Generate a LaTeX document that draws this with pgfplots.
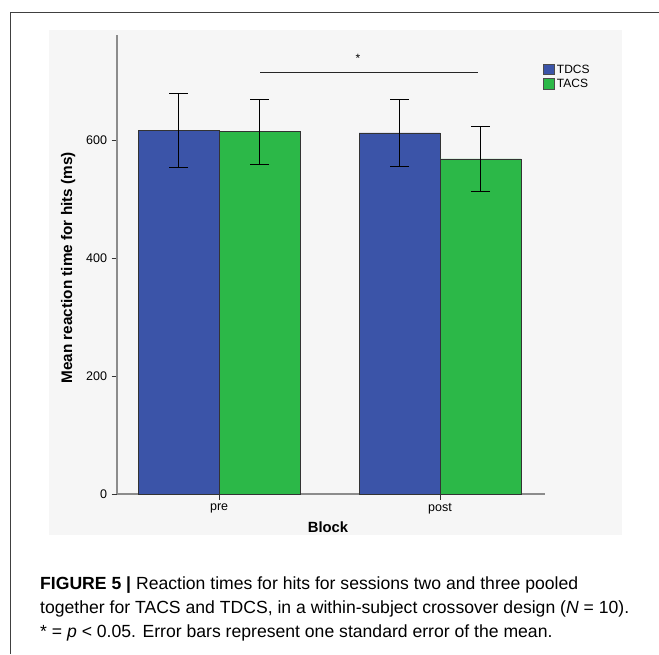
\documentclass[border=0pt]{standalone}
\usepackage{fontspec}
\setmainfont{Liberation Sans}
\usepackage{pgfplots}
\pgfplotsset{compat=1.18}
\definecolor{tdcs}{RGB}{59,84,168}
\definecolor{tacs}{RGB}{44,184,72}
\definecolor{panel}{RGB}{246,246,246}
\definecolor{axgray}{RGB}{140,140,140}
\begin{document}
\begin{tikzpicture}
\path[use as bounding box] (0pt,0pt) rectangle (659pt,-654pt);
\fill[white] (0pt,0pt) rectangle (659pt,-654pt);
\draw[line width=1pt, black!75] (10pt,-654pt) -- (10pt,-12pt) -- (659pt,-12pt);
\fill[panel] (49pt,-30pt) rectangle (622pt,-535pt);
\begin{axis}[
  at={(117pt,-494pt)}, anchor=south west,
  scale only axis, width=428pt, height=459pt,
  xmin=-0.462, xmax=1.475, ymin=0, ymax=778,
  axis x line*=bottom, axis y line*=left,
  axis line style={axgray, line width=1.6pt},
  ybar=0pt, bar width=81pt,
  xtick={0,1}, xticklabels={pre,post},
  ytick={0,200,400,600},
  tick align=outside, major tick length=5.5pt,
  tick style={black!80, line width=0.8pt},
  tick label style={font=\fontsize{12.5}{12.5}\selectfont},
  /pgf/number format/assume math mode=true,
  yticklabel style={xshift=-1pt},
  xticklabel style={yshift=-0.5pt},
  xlabel={\textbf{Block}},
  ylabel={\textbf{Mean reaction time for hits (ms)}},
  xlabel style={at={(axis description cs:0.493,-0.072)}, anchor=center, font=\fontsize{14.8}{15}\selectfont},
  ylabel style={at={(axis description cs:-0.114,0.493)}, anchor=center, font=\fontsize{15.3}{16}\selectfont},
  legend style={at={(0.996,0.94)}, anchor=north west, draw=none, fill=none,
    font=\fontsize{12}{13}\selectfont, inner sep=0pt, row sep=0.5pt,
    cells={anchor=west}},
  legend image code/.code={\draw[#1, draw=black!70, line width=0.5pt] (0pt,-5pt) rectangle (11pt,5.5pt);},
  error bars/error bar style={black, line width=0.9pt},
  error bars/error mark options={black, rotate=90, mark size=9.5pt, line width=0.9pt},
  clip=false,
]
\addplot[fill=tdcs, draw=black!80, line width=0.6pt,
  error bars/.cd, y dir=both, y explicit]
  coordinates {(0,616) +- (0,63) (1,612) +- (0,57)};
\addplot[fill=tacs, draw=black!80, line width=0.6pt,
  error bars/.cd, y dir=both, y explicit]
  coordinates {(0,614) +- (0,55) (1,568) +- (0,55)};
\legend{TDCS,TACS}
\draw[line width=0.9pt, black!85] (axis cs:0.186,715) -- (axis cs:1.172,715);
\node[anchor=north, font=\fontsize{12}{12}\selectfont, inner sep=0pt] at (axis cs:0.629,746) {*};
\end{axis}
\begin{scope}[font=\fontsize{17.6}{20}\selectfont]
\node[anchor=base west, inner sep=0pt] at (40pt,-589pt) {\textbf{FIGURE 5 |} Reaction times for hits for sessions two and three pooled};
\node[anchor=base west, inner sep=0pt] at (40pt,-613pt) {together for TACS and TDCS, in a within-subject crossover design (\textit{N} = 10).};
\node[anchor=base west, inner sep=0pt] at (40pt,-637pt) {* = \textit{p} < 0.05. Error bars represent one standard error of the mean.};
\end{scope}
\end{tikzpicture}
\end{document}
